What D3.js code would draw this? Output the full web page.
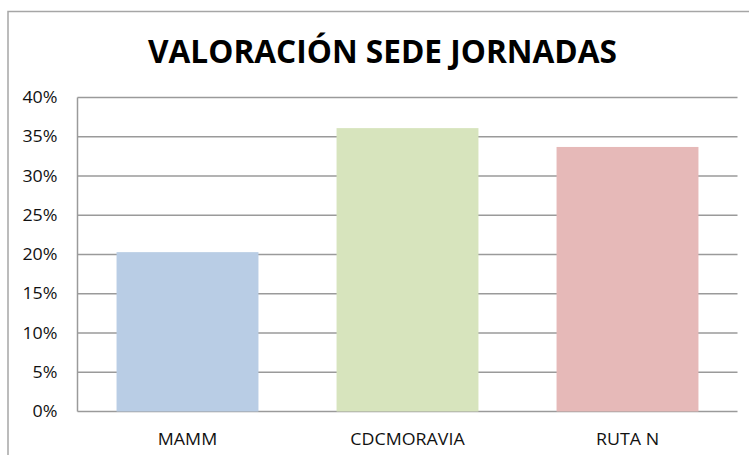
<!DOCTYPE html>
<html>
<head>
<meta charset="utf-8">
<script src="https://cdn.jsdelivr.net/npm/d3@7"></script>
<style>
  body { margin: 0; background: #fff; }
  text { font-family: "Open Sans", sans-serif; }
</style>
</head>
<body>
<div id="chart"></div>
<script>
const categories = ["MAMM", "CDCMORAVIA", "RUTA N"];
const values = [0.203, 0.361, 0.337];
const colors = ["#b9cde5", "#d7e4bd", "#e6b9b8"];
const yTicks = [0, 0.05, 0.10, 0.15, 0.20, 0.25, 0.30, 0.35, 0.40];
const title = "VALORACIÓN SEDE JORNADAS";

const width = 749;
const height = 455;
const plot = { left: 77.5, right: 737.5, top: 97.5, bottom: 411.5 };
const stretch = 1.15; // text in the picture is a bit wider than normal

const svg = d3.select("#chart").append("svg")
    .attr("width", width)
    .attr("height", height);

// outer chart border (only left and top visible)
svg.append("path")
    .attr("d", `M8,${height}V11.5H${width}`)
    .attr("fill", "none")
    .attr("stroke", "#a6a6a6")
    .attr("stroke-width", 1.5);

svg.append("text")
    .attr("x", 148)
    .attr("y", 62.5)
    .attr("textLength", 469)
    .attr("lengthAdjust", "spacingAndGlyphs")
    .attr("font-size", 32)
    .attr("font-weight", "bold")
    .attr("fill", "#000")
    .text(title);

const x = d3.scaleBand()
    .domain(categories)
    .range([plot.left, plot.right])
    .paddingInner(0.355)
    .paddingOuter(0.1775);

const y = d3.scaleLinear()
    .domain([0, 0.40])
    .range([plot.bottom, plot.top]);

// gridlines
svg.append("g")
  .selectAll("line")
  .data(yTicks)
  .join("line")
    .attr("x1", plot.left)
    .attr("x2", plot.right)
    .attr("y1", d => y(d))
    .attr("y2", d => y(d))
    .attr("stroke", "#9a9a9a")
    .attr("stroke-width", 1.5);

svg.append("line")
    .attr("x1", plot.left).attr("x2", plot.left)
    .attr("y1", y(0.40)).attr("y2", y(0))
    .attr("stroke", "#9a9a9a")
    .attr("stroke-width", 1.5);

// bars
svg.append("g")
  .selectAll("rect")
  .data(values)
  .join("rect")
    .attr("x", (d, i) => x(categories[i]))
    .attr("width", x.bandwidth())
    .attr("y", d => y(d))
    .attr("height", d => y(0) - y(d))
    .attr("fill", (d, i) => colors[i]);

// y tick labels
svg.append("g")
  .selectAll("text")
  .data(yTicks)
  .join("text")
    .attr("transform", d => `translate(57.5,${y(d) + 5.5}) scale(${stretch},1)`)
    .attr("text-anchor", "end")
    .attr("font-size", 15.5)
    .attr("fill", "#111")
    .text(d3.format(".0%"));

// x labels
svg.append("g")
  .selectAll("text")
  .data(categories)
  .join("text")
    .attr("transform", d => `translate(${x(d) + x.bandwidth() / 2},445) scale(${stretch},1)`)
    .attr("text-anchor", "middle")
    .attr("font-size", 15.5)
    .attr("fill", "#111")
    .text(d => d);
</script>
</body>
</html>
